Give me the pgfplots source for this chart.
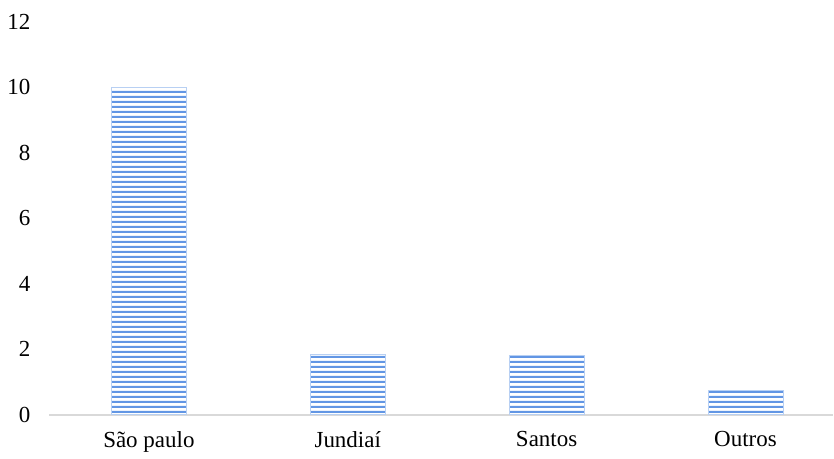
\documentclass[border=0pt]{standalone}
\usepackage{fontspec}
\setmainfont{Liberation Serif}
\usepackage{pgfplots}
\pgfplotsset{compat=1.18}
\usetikzlibrary{patterns}
\definecolor{barblue}{RGB}{98,150,228}
\definecolor{basegray}{RGB}{217,217,217}
\pgfdeclarepatternformonly{hlines}{\pgfpointorigin}{\pgfpoint{1000bp}{2.6bp}}{\pgfpoint{1000bp}{2.6bp}}{%
  \pgfpathrectangle{\pgfpointorigin}{\pgfpoint{1000bp}{1.2bp}}\pgfusepath{fill}}
\begin{document}
\begin{tikzpicture}
\begin{axis}[
  scale only axis, width=392.25bp, height=196.5bp,
  xmin=-0.5, xmax=3.44, ymin=0, ymax=12,
  axis x line*=bottom, axis y line*=left,
  y axis line style={draw=none},
  x axis line style={draw=basegray, line width=1bp, -},
  ytick={0,2,...,12},
  xtick={0,1,2,3},
  xticklabels={São paulo, Jundiaí, Santos, Outros},
  major tick length=0pt,
  tick style={draw=none},
  /pgf/number format/assume math mode=true,
  ticklabel style={font=\fontsize{11.5bp}{13bp}\selectfont},
  yticklabel style={xshift=-6bp},
  xticklabel style={yshift=-5bp},
  clip=false,
]
\addplot[ybar, bar width=37.5bp, draw=barblue!45, line width=0.4bp,
  pattern=hlines, pattern color=barblue]
  coordinates {(0,10) (1,1.85) (2,1.8) (3,0.75)};
\path (rel axis cs:-0.0631,-0.112) rectangle (rel axis cs:1,1.056);
\end{axis}
\end{tikzpicture}
\end{document}
